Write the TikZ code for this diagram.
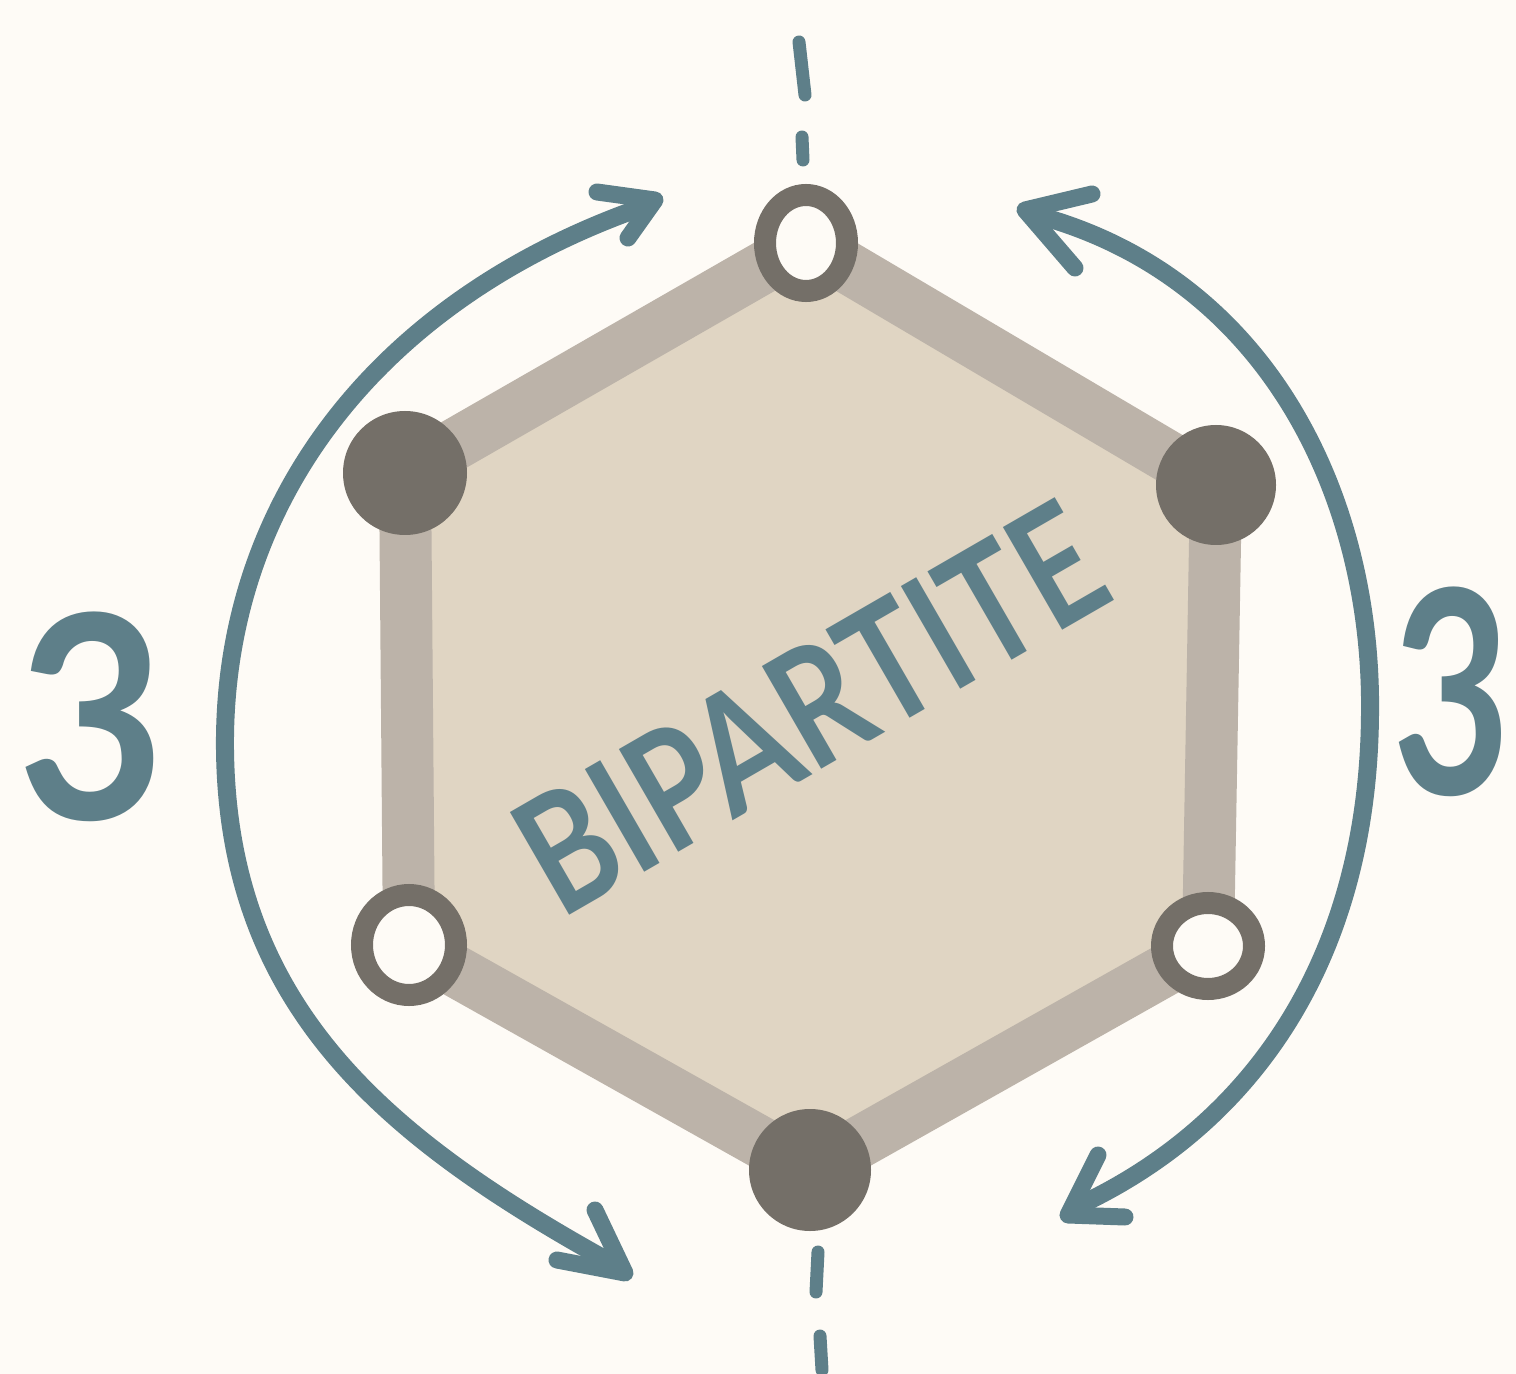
\documentclass[tikz,border=0pt]{standalone}
\usepackage{fontspec}
\newfontfamily\hand{Lato}
\definecolor{bg}{HTML}{FEFBF6}
\definecolor{hexfill}{HTML}{E0D5C3}
\definecolor{hexedge}{HTML}{BCB3A9}
\definecolor{vert}{HTML}{746F68}
\definecolor{ink}{HTML}{5E7F89}
\tikzset{
  filledv/.style={circle, fill=vert, inner sep=0pt},
  hollowv/.style={ellipse, draw=vert, fill=bg, line width=11pt, inner sep=0pt},
  band/.style={draw=hexedge, line width=26pt, line join=round, fill=hexfill},
  arc/.style={draw=ink, line width=9pt, line cap=round},
  barb/.style={draw=ink, line width=8.5pt, line cap=round, line join=round},
  dashseg/.style={draw=ink, line width=6.5pt, line cap=round},
  three/.style={text=ink, font=\hand\bfseries\fontsize{142}{142}\selectfont, inner sep=0pt}
}
\usetikzlibrary{shapes.geometric}
\begin{document}
\begin{tikzpicture}[x=0.5pt,y=-0.5pt]
\useasboundingbox (0,0) rectangle (1516,1374);
\fill[bg] (0,0) rectangle (1516,1374);
% vertex positions
\coordinate (pt) at (806,243);
\coordinate (pul) at (405,473);
\coordinate (pur) at (1216,485);
\coordinate (pll) at (409,945);
\coordinate (plr) at (1208,946);
\coordinate (pb) at (810,1170);
% hexagon
\path[band] (pt) -- (pur) -- (plr) -- (pb) -- (pll) -- (pul) -- cycle;
% vertices
\node[hollowv, minimum width=41pt, minimum height=48pt] (t) at (pt) {};
\node[filledv, minimum size=62pt] (ul) at (pul) {};
\node[filledv, minimum size=60pt] (ur) at (pur) {};
\node[hollowv, minimum width=47pt, minimum height=50pt] (ll) at (pll) {};
\node[hollowv, minimum width=46pt, minimum height=43pt] (lr) at (plr) {};
\node[filledv, minimum size=61pt] (b) at (pb) {};
% label
\node[text=ink, rotate=30, inner sep=0pt, font=\hand\bfseries\fontsize{82}{82}\selectfont] (lbl) at (810,708) {\scalebox{0.8}[1]{BIPARTITE}};
% dashed axis
\coordinate (d1a) at (799,42); \coordinate (d1b) at (805,95);
\coordinate (d2a) at (802,137); \coordinate (d2b) at (803,160);
\coordinate (d3a) at (818,1252); \coordinate (d3b) at (816,1292);
\coordinate (d4a) at (820,1336); \coordinate (d4b) at (822,1370);
\draw[dashseg] (d1a) -- (d1b);
\draw[dashseg] (d2a) -- (d2b);
\draw[dashseg] (d3a) -- (d3b);
\draw[dashseg] (d4a) -- (d4b);
% left arrow
\coordinate (la) at (640,208);
\coordinate (lm) at (225,750);
\coordinate (lz) at (610,1262);
\draw[arc] (la) .. controls (380,300) and (222,500) .. (lm)
           .. controls (228,1010) and (390,1140) .. (lz);
\coordinate (lt1) at (655,200);
\coordinate (lt1a) at (597,192);
\coordinate (lt1b) at (628,238);
\draw[barb] (lt1a) -- (lt1) -- (lt1b);
\coordinate (lt2) at (625,1273);
\coordinate (lt2a) at (557,1260);
\coordinate (lt2b) at (595,1210);
\draw[barb] (lt2a) -- (lt2) -- (lt2b);
% right arrow
\coordinate (ra) at (1040,216);
\coordinate (rm) at (1370,715);
\coordinate (rz) at (1080,1205);
\draw[arc] (ra) .. controls (1270,280) and (1373,500) .. (rm)
           .. controls (1368,950) and (1260,1120) .. (rz);
\coordinate (rt1) at (1025,210);
\coordinate (rt1a) at (1092,194);
\coordinate (rt1b) at (1075,268);
\draw[barb] (rt1a) -- (rt1) -- (rt1b);
\coordinate (rt2) at (1068,1215);
\coordinate (rt2a) at (1098,1155);
\coordinate (rt2b) at (1125,1217);
\draw[barb] (rt2a) -- (rt2) -- (rt2b);
% numbers
\node[three] (n1) at (92,717) {\scalebox{0.9}[1]{3}};
\node[three] (n2) at (1452,692) {\scalebox{0.72}[1]{3}};
\end{tikzpicture}
\end{document}
